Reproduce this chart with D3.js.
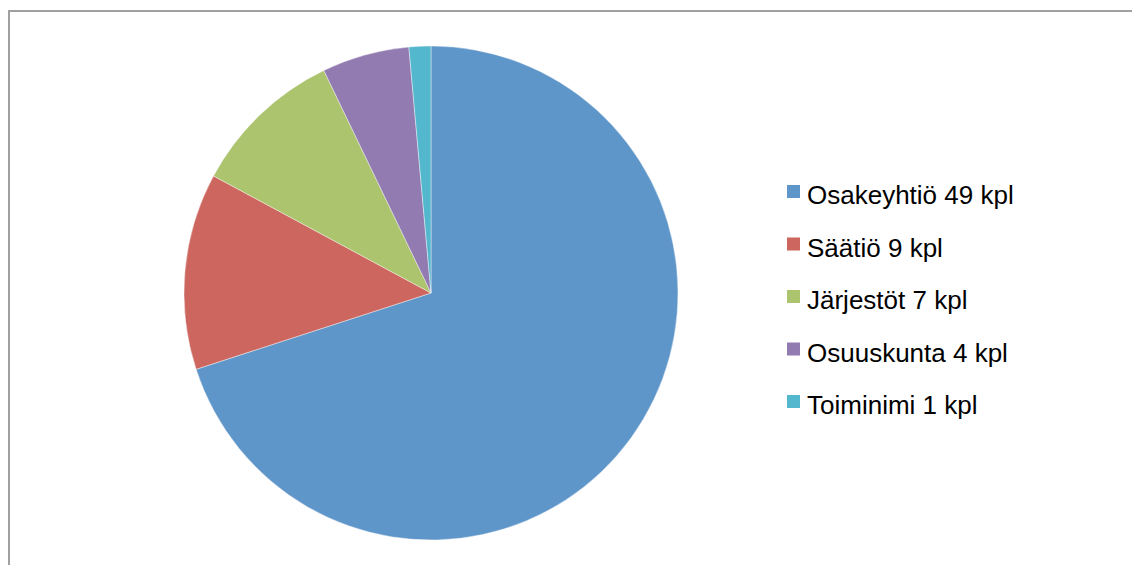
<!DOCTYPE html>
<html>
<head>
<meta charset="utf-8">
<script src="https://cdn.jsdelivr.net/npm/d3@7"></script>
<style>
body { margin: 0; background: #fff; }
</style>
</head>
<body>
<svg width="1132" height="565"></svg>
<script>
const categories = ["Osakeyhtiö", "Säätiö", "Järjestöt", "Osuuskunta", "Toiminimi"];
const values = [49, 9, 7, 4, 1];
const unit = "kpl";
const colors = ["#5f96c9", "#cc665e", "#abc46d", "#927bb1", "#53b7cd"];

const svg = d3.select("svg");
const width = +svg.attr("width");
const height = +svg.attr("height");

// kehys (vain ylä- ja vasen reuna näkyy)
svg.append("path")
    .attr("d", `M9,${height} L9,11 L${width},11`)
    .attr("fill", "none")
    .attr("stroke", "#a0a0a0")
    .attr("stroke-width", 2);

const cx = 431, cy = 293, r = 247;

const pie = d3.pie().sort(null).value((d) => d.v);
const arc = d3.arc().innerRadius(0).outerRadius(r);
const data = categories.map((c, i) => ({c: c, v: values[i], i: i}));

const g = svg.append("g").attr("transform", `translate(${cx},${cy})`);
g.selectAll("path")
    .data(pie(data))
    .join("path")
    .attr("d", arc)
    .attr("fill", (d) => colors[d.data.i])
    .attr("stroke", "rgba(255,255,255,0.5)")
    .attr("stroke-width", 0.8);

// selite
const legend = svg.append("g").attr("transform", "translate(787,185)");
const rowH = 52.5;
const item = legend.selectAll("g")
    .data(data)
    .join("g")
    .attr("transform", (d, i) => `translate(0,${i * rowH})`);
item.append("rect")
    .attr("width", 13)
    .attr("height", 13)
    .attr("fill", (d) => colors[d.i]);
item.append("text")
    .attr("x", 20)
    .attr("y", 19)
    .attr("font-family", "Liberation Sans, Arial, sans-serif")
    .attr("font-size", 26)
    .attr("fill", "#000")
    .text((d) => `${d.c} ${d.v} ${unit}`);
</script>
</body>
</html>
